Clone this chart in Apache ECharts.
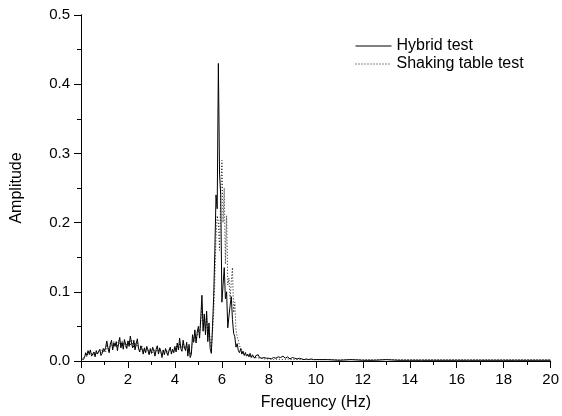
<!DOCTYPE html>
<html>
<head>
<meta charset="utf-8">
<script src="https://cdn.jsdelivr.net/npm/echarts@6/dist/echarts.min.js"></script>
<style>
html,body{margin:0;padding:0;background:#fff;}
#c{width:562px;height:416px;}
</style>
</head>
<body>
<div id="c"></div>
<script>
// Frequency (Hz)
var freq = [
0,0.05,0.1,0.15,0.2,0.25,0.3,0.35,0.4,0.45,0.5,0.55,0.6,0.65,0.7,0.75,0.8,0.85,0.9,0.95,
1,1.05,1.1,1.15,1.2,1.25,1.3,1.35,1.4,1.45,1.5,1.55,1.6,1.65,1.7,1.75,1.8,1.85,1.9,1.95,
2,2.05,2.1,2.15,2.2,2.25,2.3,2.35,2.4,2.45,2.5,2.55,2.6,2.65,2.7,2.75,2.8,2.85,2.9,2.95,
3,3.05,3.1,3.15,3.2,3.25,3.3,3.35,3.4,3.45,3.5,3.55,3.6,3.65,3.7,3.75,3.8,3.85,3.9,3.95,
4,4.05,4.1,4.15,4.2,4.25,4.3,4.35,4.4,4.45,4.5,4.55,4.6,4.65,4.7,4.75,4.8,4.85,4.9,4.95,
5,5.05,5.1,5.15,5.2,5.25,5.3,5.35,5.4,5.45,5.5,5.55,5.6,5.65,5.7,5.75,5.8,5.85,5.9,5.95,
6,6.05,6.1,6.15,6.2,6.25,6.3,6.35,6.4,6.45,6.5,6.55,6.6,6.65,6.7,6.75,6.8,6.85,6.9,6.95,
7,7.05,7.1,7.15,7.2,7.25,7.3,7.35,7.4,7.45,7.5,7.55,7.6,7.65,7.7,7.75,7.8,7.85,7.9,7.95,
8,8.1,8.2,8.3,8.4,8.5,8.6,8.7,8.8,8.9,9,9.1,9.2,9.3,9.4,9.5,9.6,9.7,9.8,9.9,
10,10.5,11,11.5,12,12.5,13,13.5,14,14.5,15,15.5,16,16.5,17,17.5,18,18.5,19,19.5,20
];

// Hybrid test amplitude
var hybrid = [
0.004,0.006,0.002,0.005,0.012,0.008,0.015,0.010,0.016,0.007,0.009,0.013,0.006,0.015,0.010,0.012,0.017,0.008,0.011,0.018,
0.014,0.020,0.029,0.018,0.012,0.024,0.030,0.016,0.026,0.021,0.028,0.015,0.025,0.034,0.019,0.027,0.017,0.031,0.024,0.018,
0.029,0.021,0.036,0.026,0.019,0.030,0.016,0.025,0.032,0.018,0.013,0.022,0.017,0.010,0.019,0.012,0.021,0.016,0.009,0.018,
0.011,0.020,0.015,0.007,0.017,0.022,0.010,0.019,0.014,0.005,0.016,0.009,0.018,0.013,0.008,0.015,0.020,0.010,0.017,0.012,
0.021,0.013,0.026,0.016,0.033,0.018,0.014,0.030,0.020,0.015,0.027,0.007,0.024,0.005,0.010,0.038,0.028,0.045,0.026,0.042,
0.050,0.033,0.062,0.095,0.043,0.068,0.038,0.072,0.028,0.055,0.018,0.011,0.050,0.093,0.160,0.240,0.220,0.430,0.270,0.240,
0.085,0.110,0.135,0.090,0.100,0.048,0.065,0.080,0.093,0.060,0.040,0.035,0.020,0.025,0.015,0.012,0.018,0.010,0.014,0.008,
0.012,0.007,0.010,0.006,0.011,0.005,0.009,0.007,0.004,0.008,0.006,0.009,0.005,0.007,0.004,0.006,0.005,0.007,0.004,0.005,
0.004,0.003,0.005,0.004,0.006,0.005,0.007,0.004,0.006,0.003,0.005,0.004,0.003,0.004,0.003,0.002,0.003,0.002,0.003,0.002,
0.002,0.002,0.001,0.002,0.001,0.001,0.002,0.001,0.001,0.001,0.001,0.001,0.001,0.001,0.001,0.001,0.001,0.001,0.001,0.001,0.001
];

// Shaking table test amplitude
var shaking = [
0.003,0.005,0.004,0.007,0.010,0.006,0.013,0.009,0.014,0.011,0.008,0.012,0.014,0.010,0.013,0.011,0.015,0.012,0.016,0.013,
0.017,0.013,0.024,0.020,0.015,0.026,0.022,0.019,0.028,0.023,0.025,0.020,0.030,0.026,0.021,0.029,0.023,0.027,0.020,0.025,
0.024,0.030,0.022,0.031,0.025,0.019,0.027,0.021,0.026,0.018,0.020,0.016,0.021,0.014,0.017,0.012,0.018,0.015,0.013,0.016,
0.015,0.012,0.018,0.011,0.014,0.019,0.013,0.016,0.010,0.009,0.014,0.012,0.016,0.011,0.013,0.017,0.014,0.015,0.012,0.018,
0.017,0.020,0.023,0.016,0.026,0.022,0.019,0.025,0.018,0.021,0.024,0.012,0.018,0.009,0.014,0.030,0.026,0.038,0.032,0.036,
0.045,0.040,0.055,0.080,0.050,0.060,0.048,0.065,0.035,0.050,0.028,0.020,0.040,0.070,0.120,0.180,0.210,0.200,0.160,0.240,
0.290,0.200,0.250,0.140,0.210,0.110,0.120,0.090,0.115,0.135,0.070,0.085,0.045,0.035,0.030,0.022,0.020,0.015,0.016,0.012,
0.010,0.011,0.008,0.009,0.007,0.008,0.006,0.007,0.005,0.006,0.005,0.006,0.004,0.005,0.004,0.004,0.003,0.004,0.003,0.003,
0.003,0.003,0.002,0.003,0.002,0.003,0.002,0.002,0.003,0.002,0.002,0.002,0.002,0.002,0.002,0.002,0.002,0.002,0.002,0.002,
0.002,0.002,0.002,0.002,0.002,0.002,0.002,0.002,0.002,0.002,0.002,0.002,0.002,0.002,0.002,0.002,0.002,0.002,0.002,0.002,0.002
];

var seriesNames = ['Hybrid test', 'Shaking table test'];

function pairs(xs, ys) {
  var out = [];
  for (var i = 0; i < xs.length; i++) out.push([xs[i], ys[i]]);
  return out;
}

var FONT = "'Liberation Sans', Arial, sans-serif";
var chart = echarts.init(document.getElementById('c'), null, {renderer: 'canvas'});

var axisLineStyle = {show: true, lineStyle: {color: '#000', width: 1}};

chart.setOption({
  backgroundColor: '#fff',
  animation: false,
  textStyle: {fontFamily: FONT, color: '#000'},
  grid: {left: 81, right: 9, top: 15, bottom: 55, containLabel: false},
  legend: {
    orient: 'vertical',
    left: 355,
    top: 38,
    padding: 0,
    itemGap: 2,
    itemWidth: 36,
    itemHeight: 14,
    selectedMode: false,
    data: [seriesNames[0], seriesNames[1]],
    itemStyle: {opacity: 0, borderWidth: 0},
    lineStyle: {width: 1},
    textStyle: {fontFamily: FONT, fontSize: 16, color: '#000', lineHeight: 15}
  },
  xAxis: [
    {
      type: 'value', min: 0, max: 20, interval: 2, position: 'bottom',
      axisLine: axisLineStyle,
      axisTick: {show: true, inside: false, length: 7, lineStyle: {color: '#000'}},
      minorTick: {show: true, splitNumber: 2, length: 4, lineStyle: {color: '#000'}},
      splitLine: {show: false},
      axisLabel: {fontFamily: FONT, fontSize: 15, color: '#000', margin: 11, showMinLabel: true, showMaxLabel: true},
      name: 'Frequency (Hz)', nameLocation: 'middle', nameGap: 34,
      nameTextStyle: {fontFamily: FONT, fontSize: 16, color: '#000'}
    },
    {
      type: 'value', min: 0, max: 20, interval: 2, position: 'top',
      axisLine: axisLineStyle,
      axisTick: {show: true, inside: true, length: 3, lineStyle: {color: '#000'}},
      minorTick: {show: true, splitNumber: 2, length: 2, lineStyle: {color: '#000'}},
      splitLine: {show: false},
      axisLabel: {show: false}
    }
  ],
  yAxis: [
    {
      type: 'value', min: 0, max: 0.5, interval: 0.1, position: 'left',
      axisLine: axisLineStyle,
      axisTick: {show: true, inside: false, length: 7, lineStyle: {color: '#000'}},
      minorTick: {show: true, splitNumber: 2, length: 4, lineStyle: {color: '#000'}},
      splitLine: {show: false},
      axisLabel: {fontFamily: FONT, fontSize: 15, color: '#000', margin: 11, showMinLabel: true, showMaxLabel: true,
        formatter: function (v) { return v.toFixed(1); }},
      name: 'Amplitude', nameLocation: 'middle', nameGap: 56, nameRotate: 90,
      nameTextStyle: {fontFamily: FONT, fontSize: 16, color: '#000'}
    },
    {
      type: 'value', min: 0, max: 0.5, interval: 0.1, position: 'right',
      axisLine: axisLineStyle,
      axisTick: {show: true, inside: true, length: 3, lineStyle: {color: '#000'}},
      minorTick: {show: true, splitNumber: 2, length: 2, lineStyle: {color: '#000'}},
      splitLine: {show: false},
      axisLabel: {show: false}
    }
  ],
  series: [
    {
      name: seriesNames[1], type: 'line', xAxisIndex: 0, yAxisIndex: 0,
      data: pairs(freq, shaking), symbol: 'none', showSymbol: false,
      lineStyle: {color: '#111', width: 1, type: [1, 2]},
      itemStyle: {color: '#111'}, z: 2
    },
    {
      name: seriesNames[0], type: 'line', xAxisIndex: 0, yAxisIndex: 0,
      data: pairs(freq, hybrid), symbol: 'none', showSymbol: false,
      lineStyle: {color: '#000', width: 1, type: 'solid'},
      itemStyle: {color: '#000'}, z: 3
    }
  ]
});
</script>
</body>
</html>
